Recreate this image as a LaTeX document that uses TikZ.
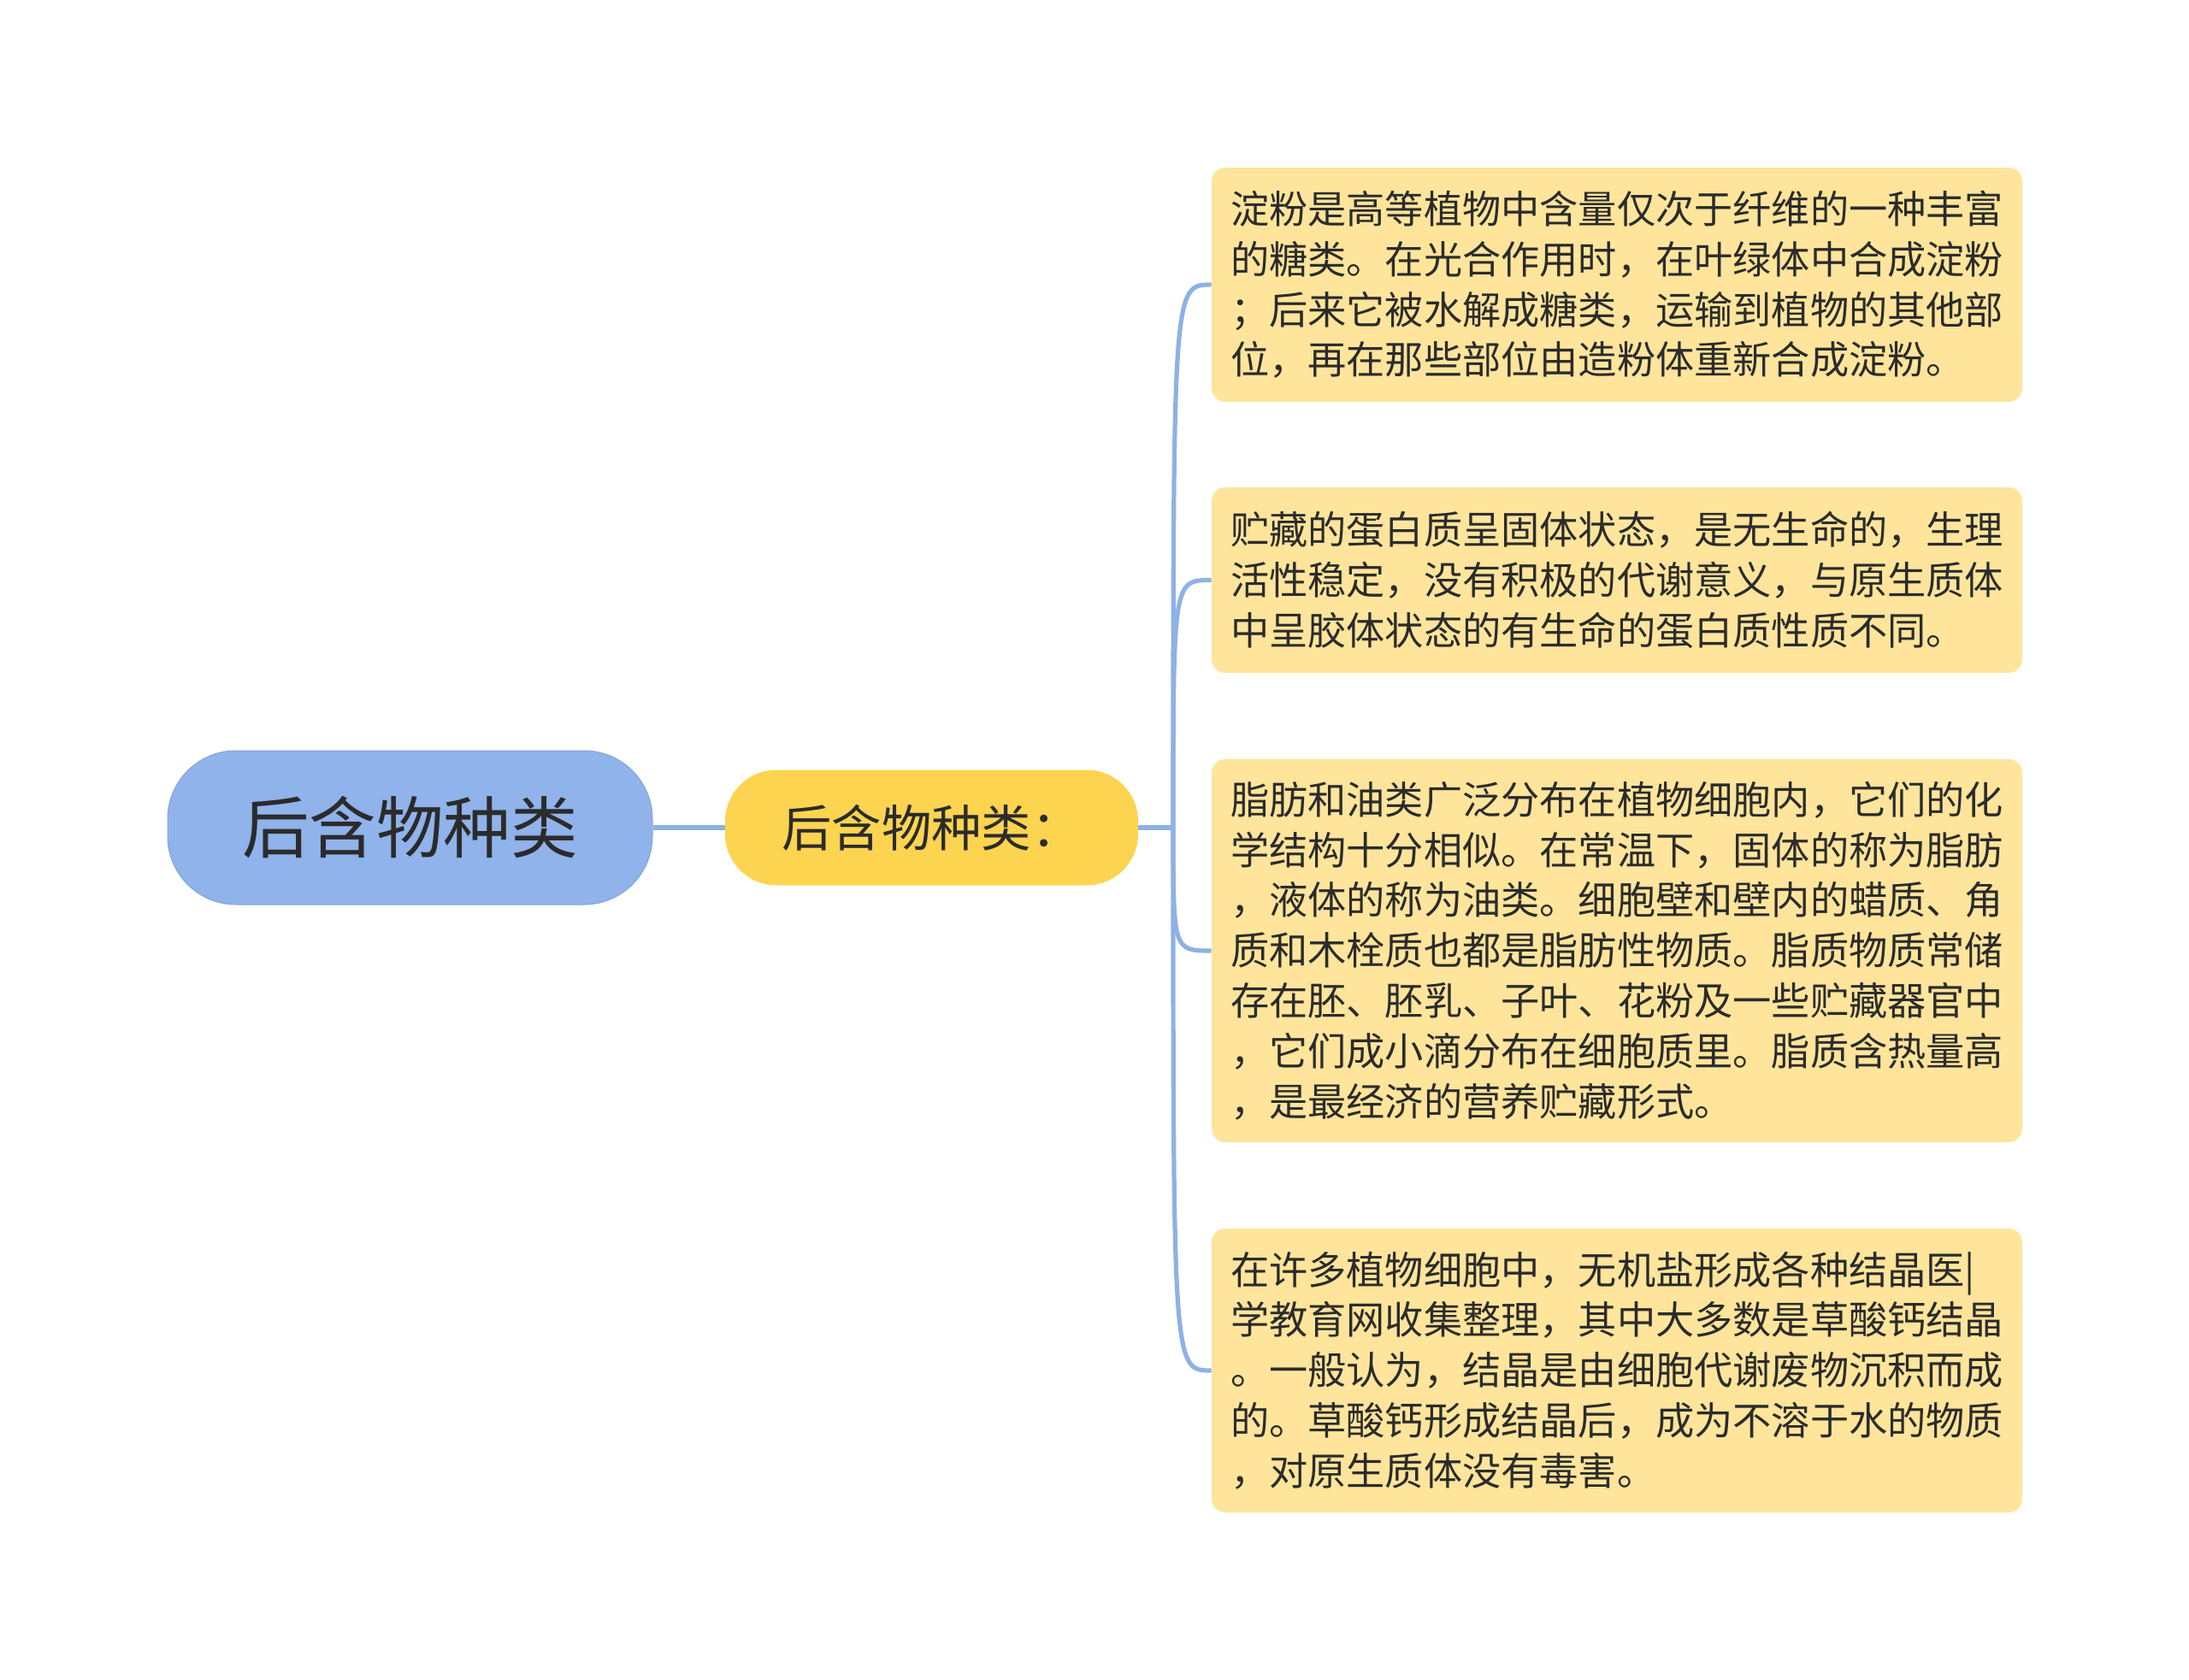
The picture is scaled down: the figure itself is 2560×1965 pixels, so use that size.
\documentclass[tikz,border=0pt]{standalone}
\usepackage{fontspec}
\setmainfont{Noto Sans CJK SC}

\definecolor{rootblue}{HTML}{8FB3EA}
\definecolor{linkblue}{HTML}{8EB1E6}
\definecolor{subyellow}{HTML}{FCD450}
\definecolor{boxyellow}{HTML}{FEE59B}
\definecolor{inktext}{HTML}{2B2B2B}

\begin{document}
\begin{tikzpicture}[x=0.5pt,y=-0.5pt,
  rootnode/.style={fill=rootblue,draw=rootblue!92!black,line width=0.5pt,text=inktext,
    minimum width=283.5pt,minimum height=90pt,rounded corners=40pt,
    font=\fontsize{39.3}{46}\selectfont},
  subnode/.style={fill=subyellow,text=inktext,minimum width=241.5pt,minimum height=67.5pt,
    rounded corners=30pt,font=\fontsize{29.2}{36}\selectfont},
  leafbox/.style={fill=boxyellow,text=inktext,text width=452pt,inner xsep=11pt,
    align=left,rounded corners=8pt,minimum height=#1,
    font=\fontsize{22.6}{29.4}\selectfont},
  link/.style={draw=linkblue,line width=2.6pt}]
  \useasboundingbox (0,0) rectangle (2560,1965);

  \node (root) at (479.5,968) [rootnode] {后含物种类};
  \node (sub) at (1089.5,968) [subnode] {后含物种类：};
  \coordinate (jn) at (1372,968);

  \node (b1) at (1891,333) [leafbox=137pt] {淀粉是高等植物中含量仅次于纤维的一种丰富\\的糖类。在光合作用时，在叶绿体中合成淀粉\\；后来它被水解成糖类，运输到植物的其他部\\位，再在那些部位由造粉体重新合成淀粉。};
  \node (b2) at (1891,678.5) [leafbox=108.5pt] {贮藏的蛋白质呈固体状态，是无生命的，生理\\活性稳定，没有积极的代谢意义，与原生质体\\中呈胶体状态的有生命的蛋白质性质不同。};
  \node (b3) at (1891,1112) [leafbox=224pt] {脂肪和油类广泛分布在植物细胞内，它们的化\\学结构十分相似。在常温下，固体的称为脂肪\\，液体的称为油类。细胞壁和壁内的蜡质、角\\质和木栓质也都是脂肪性物质。脂质物质常储\\存在胚、胚乳、子叶、花粉及一些贮藏器官中\\，它们成小滴分布在细胞质里。脂质含热量高\\，是最经济的营养贮藏形式。};
  \node (b4) at (1891,1603) [leafbox=166pt] {在许多植物细胞中，无机盐形成各种结晶医|\\学教育网收集整理，其中大多数是草酸钙结晶\\。一般认为，结晶是由细胞代谢废物沉积而成\\的。草酸钙形成结晶后，成为不溶于水的物质\\，对原生质体没有毒害。};

  \draw[link] (root.east) -- (sub.west);
  \draw[link] (sub.east) -- (jn);
  \foreach \b in {b1,b2,b3,b4}
    \draw[link] (jn) .. controls (jn |- \b.west) .. (\b.west);

\end{tikzpicture}
\end{document}
